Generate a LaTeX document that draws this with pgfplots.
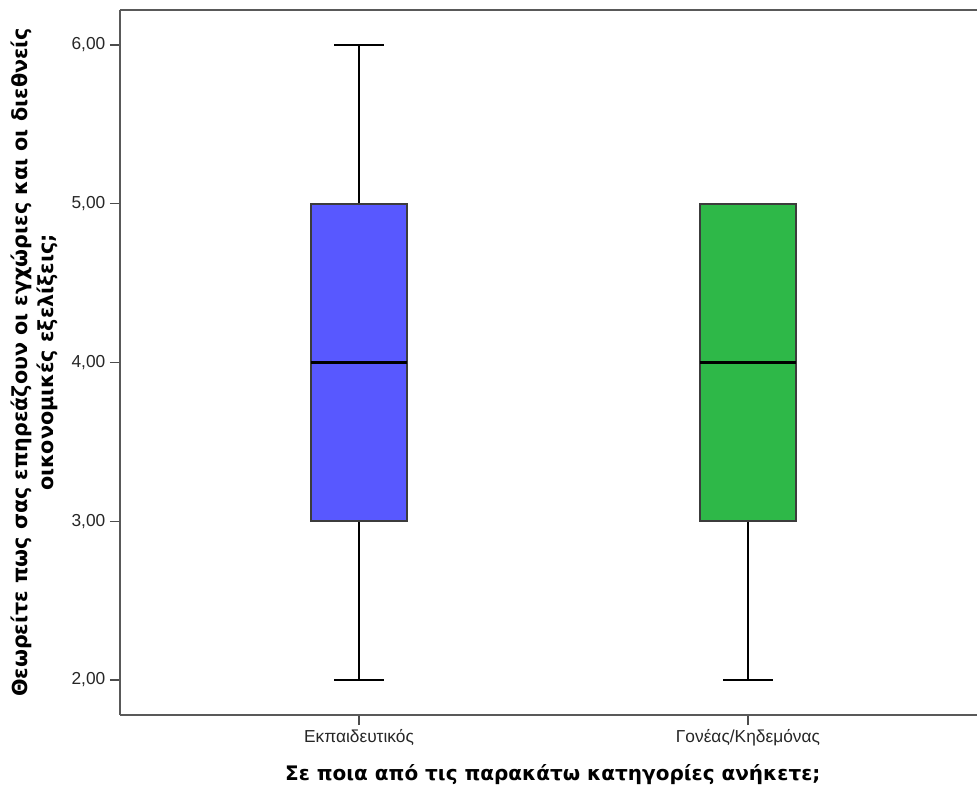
\documentclass[border=0pt]{standalone}
\usepackage{fontspec}
\setmainfont{Liberation Sans}
\newfontfamily\labfont{DejaVu Sans}
\usepackage{pgfplots}
\pgfplotsset{compat=1.18}
\usepgfplotslibrary{statistics}
\definecolor{boxblue}{RGB}{88,88,255}
\definecolor{boxgreen}{RGB}{46,184,72}
\definecolor{edgegray}{RGB}{60,60,60}
\begin{document}
\begin{tikzpicture}[x=1pt,y=1pt]
\begin{axis}[
  scale only axis,
  width=642.75pt, height=528.75pt,
  xmin=0.3856, xmax=2.589,
  ymin=1.7795, ymax=6.2205,
  axis x line*=box, axis y line*=left,
  axis line style={draw=black!65, line width=1.3pt},
  xtick={1,2}, xticklabels={Εκπαιδευτικός,Γονέας/Κηδεμόνας},
  ytick={2,3,4,5,6},
  yticklabels={{2,00},{3,00},{4,00},{5,00},{6,00}},
  xtick pos=bottom, ytick pos=left,
  tick align=outside,
  major tick length=7.5pt,
  tick style={draw=black!70, line width=0.9pt},
  ticklabel style={font=\fontsize{13}{15}\selectfont, text=black!85},
  xlabel={Σε ποια από τις παρακάτω κατηγορίες ανήκετε;},
  xlabel style={font=\labfont\bfseries\fontsize{15}{17}\selectfont, at={(rel axis cs:0.505,0)}, anchor=center, yshift=-45pt},
  ylabel={Θεωρείτε πως σας επηρεάζουν οι εγχώριες και οι διεθνείς\\οικονομικές εξελίξεις;},
  ylabel style={font=\labfont\bfseries\fontsize{15.5}{19.5}\selectfont, align=center, at={(rel axis cs:-0.1,0.5)}, anchor=center},
  boxplot/draw direction=y,
  boxplot/box extend=0.247,
  boxplot/whisker extend=0.128,
  clip=false,
]
\addplot+[boxplot prepared={median=4, upper quartile=5, lower quartile=3, upper whisker=6, lower whisker=2, draw position=1},
  draw=edgegray, line width=1.2pt, fill=boxblue, solid, mark=none,
  boxplot/every median/.style={draw=black, line width=2.2pt},
  boxplot/every whisker/.style={draw=black, line width=1.2pt}]
  coordinates {};
\addplot+[boxplot prepared={median=4, upper quartile=5, lower quartile=3, upper whisker=5, lower whisker=2, draw position=2},
  draw=edgegray, line width=1.2pt, fill=boxgreen, solid, mark=none,
  boxplot/every median/.style={draw=black, line width=2.2pt},
  boxplot/every whisker/.style={draw=black, line width=1.2pt}]
  coordinates {};
\coordinate (sw) at (rel axis cs:0,0);
\coordinate (ne) at (rel axis cs:1,1);
\end{axis}
\pgfresetboundingbox
\path[use as bounding box] ([shift={(-90pt,-57pt)}]sw) rectangle ([shift={(0pt,7.5pt)}]ne);
\end{tikzpicture}
\end{document}
